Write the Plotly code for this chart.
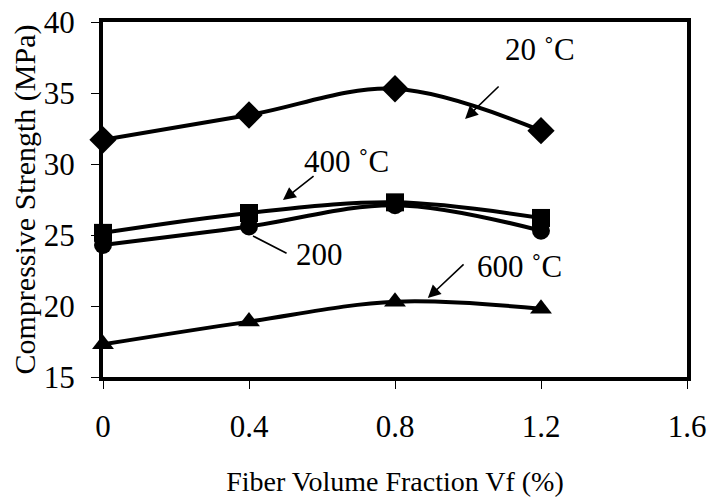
import plotly.graph_objects as go

vf = [0, 0.4, 0.8, 1.2]
s20 = [31.7, 33.45, 35.3, 32.35]
s200 = [24.3, 25.6, 27.1, 25.3]
s400 = [25.15, 26.55, 27.3, 26.2]
s600 = [17.3, 18.9, 20.3, 19.8]

x_ticks = [0, 0.4, 0.8, 1.2, 1.6]
x_tick_labels = ["0", "0.4", "0.8", "1.2", "1.6"]
y_ticks = [15, 20, 25, 30, 35, 40]

FONT = "Liberation Serif"

fig = go.Figure()
series = [
    (s20, "diamond", 21, "20 ˚C"),
    (s400, "square", 18, "400 ˚C"),
    (s200, "circle", 18, "200 ˚C"),
    (s600, "triangle-up", 19, "600 ˚C"),
]
for ys, sym, sz, name in series:
    fig.add_trace(go.Scatter(
        x=vf, y=ys, name=name, mode="lines+markers",
        line=dict(color="black", width=4, shape="spline", smoothing=1.0),
        marker=dict(symbol=sym, size=sz, color="black"),
        cliponaxis=False,
    ))

ann_font = dict(family=FONT, size=31, color="black")
labels = [
    ("20 ˚C", 1.197, 38.05),
    ("400 ˚C", 0.666, 30.15),
    ("200", 0.592, 23.6),
    ("600 ˚C", 1.142, 22.8),
]
for t, x, y in labels:
    fig.add_annotation(x=x, y=y, text=t, showarrow=False, font=ann_font,
                       xref="x", yref="y")

# arrows: (head_x, head_y, tail_x, tail_y, arrowhead)
arrows = [
    (0.992, 33.17, 1.088, 35.56, 2),
    (0.493, 27.46, 0.581, 29.23, 2),
    (0.411, 24.93, 0.507, 23.66, 0),
    (0.890, 20.56, 0.992, 23.03, 2),
]
for hx, hy, tx, ty, ah in arrows:
    fig.add_annotation(x=hx, y=hy, ax=tx, ay=ty, xref="x", yref="y",
                       axref="x", ayref="y", text="", showarrow=True,
                       arrowhead=ah, arrowsize=1.6, arrowwidth=1.6,
                       arrowcolor="black")

fig.update_layout(
    width=707, height=497,
    margin=dict(l=103, r=20, t=22, b=120),
    paper_bgcolor="white", plot_bgcolor="white",
    showlegend=False,
    font=dict(family=FONT, size=27, color="black"),
)
fig.update_xaxes(
    range=[0, 1.6], tickvals=x_ticks, ticktext=x_tick_labels,
    showgrid=False, zeroline=False, automargin=False,
    showline=True, linewidth=4, linecolor="black", mirror=True,
    ticks="outside", ticklen=8, tickwidth=1, tickcolor="black",
    ticklabelstandoff=11,
    title=dict(text="Fiber Volume Fraction Vf (%)", standoff=47,
               font=dict(family=FONT, size=28)),
    tickfont=dict(family=FONT, size=31),
)
fig.update_yaxes(
    range=[15, 40], tickvals=y_ticks,
    showgrid=False, zeroline=False, automargin=False,
    showline=True, linewidth=4, linecolor="black", mirror=True,
    ticks="outside", ticklen=8, tickwidth=1, tickcolor="black",
    ticklabelstandoff=10,
    title=dict(text="Compressive Strength (MPa)", standoff=0,
               font=dict(family=FONT, size=30)),
    tickfont=dict(family=FONT, size=31),
)

fig.write_html("out.html")
